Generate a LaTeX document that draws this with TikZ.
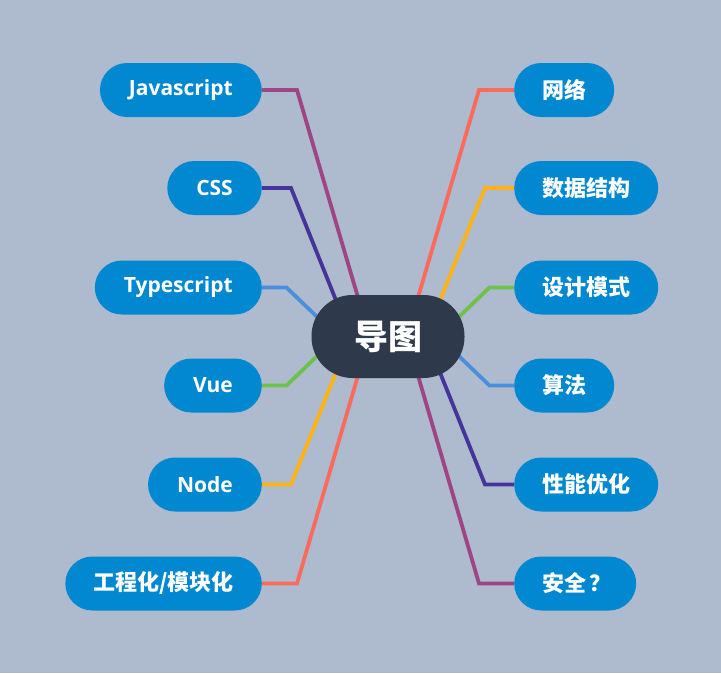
\documentclass[tikz,border=0pt]{standalone}
\usepackage{fontspec}
\setmainfont{Open Sans}
\newfontfamily\cjk{Noto Sans CJK SC}
\definecolor{bgc}{HTML}{AEBACD}
\definecolor{leafc}{HTML}{0288D1}
\definecolor{rootc}{HTML}{2E3A4B}
\definecolor{cpink}{HTML}{9E4585}
\definecolor{cindigo}{HTML}{46349A}
\definecolor{cblue}{HTML}{4A8FDD}
\definecolor{cgreen}{HTML}{6CC24A}
\definecolor{corange}{HTML}{FDB316}
\definecolor{csalmon}{HTML}{FA6B5B}
\pgfdeclarelayer{back}
\pgfdeclarelayer{bg}
\pgfsetlayers{back,bg,main}
\begin{document}
\begin{tikzpicture}[x=1pt,y=-1pt,
  leaf/.style={fill=leafc, text=white, rounded corners=27pt, minimum height=54pt,
    inner xsep=29pt, inner ysep=0pt, font=\bfseries\fontsize{21}{25}\selectfont},
  leafcjk/.style={leaf, inner xsep=28pt, font=\cjk\bfseries\fontsize{22}{26}\selectfont},
  lleaf/.style={anchor=east},
  rleaf/.style={anchor=west},
  conn/.style={line width=3.8pt, line join=miter}]
\begin{pgfonlayer}{back}
\fill[bgc] (0,0) rectangle (721,673);
\end{pgfonlayer}
\node[fill=rootc, text=white, rounded corners=41pt, minimum width=153pt, minimum height=83pt,
  inner sep=0pt, font=\cjk\bfseries\fontsize{34}{38}\selectfont] (root) at (388,336.5) {导图};
% left
\node[leaf,lleaf] (js) at (262,90) {Javascript};
\node[leaf,lleaf] (css) at (262,188) {CSS};
\node[leaf,lleaf] (ts) at (262,287.5) {Typescript};
\node[leaf,lleaf] (vue) at (262,385.5) {Vue};
\node[leaf,lleaf] (nd) at (262,484.5) {Node};
\node[leafcjk,lleaf] (eng) at (262,583.5) {工程化/模块化};
% right
\node[leafcjk,rleaf] (net) at (514,90) {网络};
\node[leafcjk,rleaf] (ds) at (514,188) {数据结构};
\node[leafcjk,rleaf] (dp) at (514,287.5) {设计模式};
\node[leafcjk,rleaf] (alg) at (514,385.5) {算法};
\node[leafcjk,rleaf] (perf) at (514,484.5) {性能优化};
\node[leafcjk,rleaf] (sec) at (514,583.5) {安全\kern3pt？\kern-3pt};
\begin{pgfonlayer}{bg}
\draw[conn,cpink] (js.east) -- ++(35,0) -- ([xshift=-18.5pt]root.center);
\draw[conn,cindigo] (css.east) -- ++(29,0) -- ([xshift=-37.5pt]root.center);
\draw[conn,cblue] (ts.east) -- ++(24.5,0) -- ([xshift=-50.5pt]root.center);
\draw[conn,cgreen] (vue.east) -- ++(24.5,0) -- ([xshift=-50.5pt]root.center);
\draw[conn,corange] (nd.east) -- ++(29,0) -- ([xshift=-37.5pt]root.center);
\draw[conn,csalmon] (eng.east) -- ++(35,0) -- ([xshift=-18.5pt]root.center);
\draw[conn,csalmon] (net.west) -- ++(-35,0) -- ([xshift=18.5pt]root.center);
\draw[conn,corange] (ds.west) -- ++(-29,0) -- ([xshift=37.5pt]root.center);
\draw[conn,cgreen] (dp.west) -- ++(-24.5,0) -- ([xshift=50.5pt]root.center);
\draw[conn,cblue] (alg.west) -- ++(-24.5,0) -- ([xshift=50.5pt]root.center);
\draw[conn,cindigo] (perf.west) -- ++(-29,0) -- ([xshift=37.5pt]root.center);
\draw[conn,cpink] (sec.west) -- ++(-35,0) -- ([xshift=18.5pt]root.center);
\end{pgfonlayer}
\end{tikzpicture}
\end{document}
